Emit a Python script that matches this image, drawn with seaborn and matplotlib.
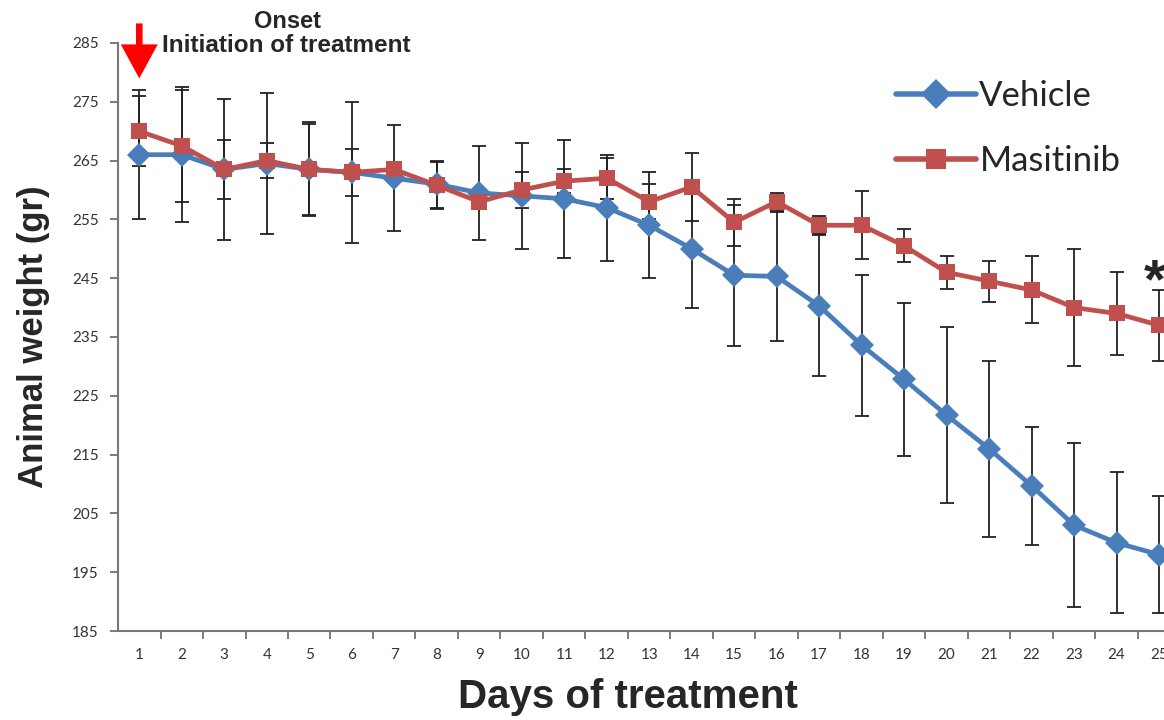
import numpy as np
import pandas as pd
import matplotlib
matplotlib.use("Agg")
import matplotlib.pyplot as plt
import seaborn as sns

days = list(range(1, 26))
vehicle = [266, 266, 263.5, 264.5, 263.5, 263, 262, 261, 259.5, 259, 258.5, 257, 254, 250, 245.5,
           245.3, 240.3, 233.6, 227.8, 221.7, 216, 209.7, 203, 200, 198]
vehicle_err = [11, 11.5, 12, 12, 8, 12, 9, 4, 8, 9, 10, 9, 9, 10, 12,
               11, 12, 12, 13, 15, 15, 10, 14, 12, 10]
masitinib = [270, 267.5, 263.5, 265, 263.5, 263, 263.5, 260.8, 258, 260, 261.5, 262, 258, 260.5, 254.5,
             258, 254, 254, 250.5, 246, 244.5, 243, 240, 239, 237]
masitinib_err = [6, 9.5, 5, 3, 7.7, 4, 1, 4, 1, 3, 2, 3.5, 3, 5.8, 4,
                 1.5, 1.5, 5.8, 2.8, 2.8, 3.5, 5.7, 10, 7, 6]
groups = ["Vehicle", "Masitinib"]
colors = {"Vehicle": "#4a7ebb", "Masitinib": "#c0504d"}

df = pd.DataFrame({
    "day": days * 2,
    "weight": vehicle + masitinib,
    "err": vehicle_err + masitinib_err,
    "group": ["Vehicle"] * len(days) + ["Masitinib"] * len(days),
})

sns.set_style("white")
fig = plt.figure(figsize=(11.64, 7.2), dpi=100)
ax = fig.add_axes([0.1014, 0.1236, 0.9126, 0.8167])

# error bars behind the lines
for g in groups:
    sub = df[df.group == g]
    ax.errorbar(sub.day, sub.weight, yerr=sub.err, fmt="none", ecolor="#222222",
                elinewidth=1.3, capsize=5, capthick=1.3, zorder=1)

sns.lineplot(data=df, x="day", y="weight", hue="group", style="group",
             hue_order=groups, style_order=groups, palette=colors,
             markers={"Vehicle": "D", "Masitinib": "s"}, dashes=False,
             linewidth=3.4, markersize=12, markeredgewidth=0, ax=ax, zorder=3)

ax.set_xlim(0.5, 25.5)
ax.set_ylim(185, 285)
ax.set_yticks(np.arange(185, 286, 10))
ax.set_xticks(days)
ax.set_xticks(np.arange(1.5, 25.5, 1), minor=True)
ax.tick_params(axis="x", which="major", length=0, pad=12, labelsize=11, labelcolor="#333333")
ax.tick_params(axis="x", which="minor", length=6, width=1.2, color="#666666", direction="out", bottom=True)
ax.tick_params(axis="y", length=6, width=1.2, color="#666666", direction="out", left=True,
               labelsize=11, labelcolor="#333333", pad=8)
for lab in ax.get_xticklabels() + ax.get_yticklabels():
    lab.set_family("Lato")

for s in ["top", "right"]:
    ax.spines[s].set_visible(False)
for s in ["left", "bottom"]:
    ax.spines[s].set_color("#777777")
    ax.spines[s].set_linewidth(1.5)

ax.set_ylabel("Animal weight (gr)", fontsize=25, fontweight="bold", family="Liberation Sans")
ax.yaxis.set_label_coords(-0.064, 0.5)
ax.set_xlabel("Days of treatment", fontsize=29, fontweight="bold", family="Liberation Sans",
              va="center")
ax.xaxis.set_label_coords(0.48, -0.112)

leg = ax.legend(loc="upper left", bbox_to_anchor=(0.703, 0.99), frameon=False,
                handlelength=2.3, labelspacing=0.95, handletextpad=0.1,
                prop={"family": "Lato", "size": 25})
for h in leg.legend_handles:
    h.set_linewidth(4)
    h.set_markersize(15)

# onset arrow and text
ax.annotate("", xy=(1, 278.5), xytext=(1, 288.8), annotation_clip=False,
            arrowprops=dict(arrowstyle="simple,head_length=0.875,head_width=0.95,tail_width=0.17",
                            mutation_scale=28, color="#ff0000", lw=0))
ax.text(4.48, 288.7, "Onset", fontsize=17, fontweight="bold", family="Liberation Sans",
        ha="center", va="center", clip_on=False)
ax.text(4.46, 284.5, "Initiation of treatment", fontsize=17.5, fontweight="bold",
        family="Liberation Sans", ha="center", va="center", clip_on=False)

ax.text(24.9, 244.2, "*", fontsize=40, fontweight="bold", family="Liberation Sans",
        ha="center", va="center")

fig.savefig("out.png", dpi=100)
